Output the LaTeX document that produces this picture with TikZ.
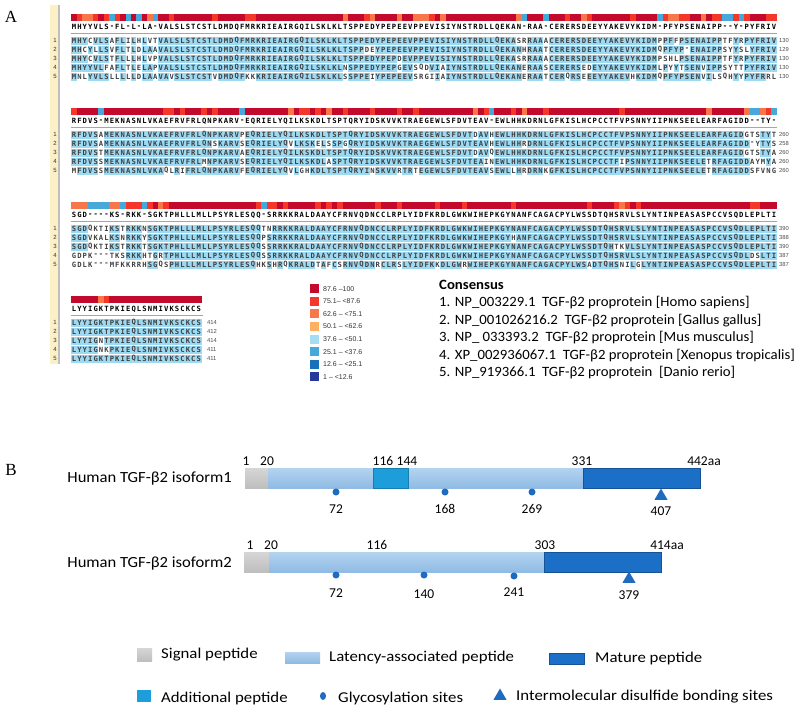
\documentclass[tikz,border=0pt]{standalone}
\usepackage{fontspec}
\setmainfont{Carlito}
\newfontfamily\widefont{Carlito}[FakeStretch=1.12]
\newfontfamily\midfont{Carlito}[FakeStretch=1.07]
\newfontfamily\specfont{Carlito}[FakeStretch=1.04]
\newfontfamily\alnfont{DejaVu Sans Mono}
\newfontfamily\arialfont{Liberation Sans}
\newfontfamily\timesfont{Liberation Serif}
\usetikzlibrary{shapes.geometric}

\definecolor{hitblue}{HTML}{9CDAF4}
\definecolor{cons1}{HTML}{C40A2C}
\definecolor{cons2}{HTML}{F5362B}
\definecolor{cons3}{HTML}{F7774A}
\definecolor{cons4}{HTML}{FDB062}
\definecolor{cons5}{HTML}{A6DDF2}
\definecolor{cons6}{HTML}{47A9DA}
\definecolor{cons7}{HTML}{1671BA}
\definecolor{cons8}{HTML}{27389A}
\definecolor{stripe}{HTML}{FBF0C6}
\definecolor{sigtop}{HTML}{D6D6D6}
\definecolor{sigbot}{HTML}{BEBEBE}
\definecolor{laptop}{HTML}{B4D3EF}
\definecolor{lapbot}{HTML}{8FBBE4}
\definecolor{matcol}{HTML}{1C6FC6}
\definecolor{addcol}{HTML}{1D9DDA}
\definecolor{sitecol}{HTML}{1F6BC0}

% alignment helpers
\newcount\alncol
\def\alngap{-}
\def\alnbump{%
  \edef\alnkey{alncnt\alnblk-\the\alncol}%
  \ifcsname\alnkey\endcsname
    \expandafter\xdef\csname\alnkey\endcsname{\the\numexpr\csname\alnkey\endcsname+1\relax}%
  \else
    \expandafter\xdef\csname\alnkey\endcsname{1}%
  \fi}
\def\alnstep#1#2\relax#3#4\relax{%
  \pgfmathsetmacro\alnx{74+5.426*\the\alncol}%
  \def\alnc{#1}\def\alnr{#3}%
  \ifx\alnc\alnr
    \ifx\alnr\alngap\else
      \fill[alnhit] (\alnx-2.75,\alny-4) rectangle (\alnx+2.75,\alny+4);
      \alnbump
    \fi
  \fi
  \node[alnchar, name=r\alnblk-\alnrow-\the\alncol] at (\alnx,\alny) {#3};
  \advance\alncol by 1
  \def\alnrest{#2}%
  \ifx\alnrest\empty\else\alnstep#2\relax#4\relax\fi}
\def\alnconsstep#1#2\relax{%
  \pgfmathsetmacro\alnx{74+5.426*\the\alncol}%
  \node[conschar, name=c\alnblk-\the\alncol] at (\alnx,\alny) {#1};
  \advance\alncol by 1
  \def\alnrest{#2}%
  \ifx\alnrest\empty\else\alnconsstep#2\relax\fi}
\newcommand\alncons[2]{%
  \def\alny{#1}\alncol=0
  \edef\alnrun{\noexpand\alnconsstep#2\relax}\alnrun}
\newcommand\alnline[3]{%
  \def\alnrow{#1}%
  \pgfmathsetmacro\alny{\alntop+9*(#1-1)}%
  \alncol=0
  \edef\alnrun{\noexpand\alnstep#2\relax#3\relax}\alnrun}
\newcommand\alnbar[1]{%
  \foreach \ci in {1,...,#1}{%
    \pgfmathtruncatemacro\cj{\ci-1}%
    \pgfmathsetmacro\bx{74+5.426*\cj}%
    \ifcsname alncnt\alnblk-\cj\endcsname
      \edef\alnn{\csname alncnt\alnblk-\cj\endcsname}%
    \else\def\alnn{0}\fi
    \ifcase\alnn\relax\def\barcol{cons6}\or\def\barcol{cons5}\or\def\barcol{cons4}\or\def\barcol{cons3}\or\def\barcol{cons2}\or\def\barcol{cons1}\fi
    \fill[\barcol] (\bx-2.75,\alnbary-3.2) rectangle (\bx+2.75,\alnbary+3.2);
  }}

\begin{document}
\begin{tikzpicture}[x=1pt, y=-1pt,
  alnchar/.style={font=\alnfont\bfseries\fontsize{7.2}{8}\selectfont, text=black!75, inner sep=0pt},
  conschar/.style={alnchar, text=black},
  alnhit/.style={fill=hitblue},
  rownum/.style={font=\arialfont\fontsize{6}{7}\selectfont, text=black!80, inner sep=0pt},
  endnum/.style={font=\arialfont\fontsize{5.8}{7}\selectfont, text=black!70, inner sep=0pt, anchor=west},
  rulegray/.style={draw=black!35, line width=0.6pt},
  keybox/.style={minimum size=9pt, inner sep=0pt},
  keytext/.style={font=\arialfont\fontsize{7}{8}\selectfont, text=black!80, inner sep=0pt, anchor=west},
  spec/.style={font=\specfont\fontsize{14.2}{16}\selectfont, inner sep=0pt, anchor=west},
  isolab/.style={font=\midfont\fontsize{15.5}{17}\selectfont, inner sep=0pt, anchor=east},
  tick/.style={font=\fontsize{13.5}{15}\selectfont, inner sep=0pt},
  site/.style={circle, fill=sitecol, minimum size=7pt, inner sep=0pt},
  bond/.style={regular polygon, regular polygon sides=3, fill=sitecol, minimum size=15pt, inner sep=0pt},
  keylab/.style={font=\widefont\fontsize{15}{17}\selectfont, inner sep=0pt, anchor=west},
  panel/.style={font=\timesfont\fontsize{17}{18}\selectfont, inner sep=0pt}]
  \useasboundingbox (0,0) rectangle (800,712);
  \fill[white] (0,0) rectangle (800,712);

  % Panel A
  \node[panel] (labA) at (11,17) {A};
  \fill[stripe] (50,5) rectangle (59,364);
  \draw[black!25, line width=1.2pt] (59,5) -- (59,364);

  % Block 1
  \def\alnblk{1}\def\alntop{40.5}\def\alnbary{17.5}
  \def\alnseq{MHYYVLS-FL-L-LA-VALSLSTCSTLDMDQFMRKRIEAIRGQILSKLKLTSPPEDYPEPEEVPPEVISIYNSTRDLLQEKAN-RAA-CERERSDEEYYAKEVYKIDM-PFYPSENAIPP--Y-PYFRIV}
  \alncons{27.3}{\alnseq}
  \draw[rulegray] (71,33.5) -- (777,33.5);
  \alnline{1}{\alnseq}{MHYCVLSAFLILHLVTVALSLSTCSTLDMDQFMRKRIEAIRGQILSKLKLTSPPEDYPEPEEVPPEVISIYNSTRDLLQEKASRRAAACERERSDEEYYAKEVYKIDMPPFFPSENAIPPTFYRPYFRIV}
  \alnline{2}{\alnseq}{MHCYLLSVFLTLDLAAVALSLSTCSTLDMDQFMRKRIEAIRGQILSKLKLTSPPDEYPEPEEVPPEVISIYNSTRDLLQEKANHRAATCERERSDEEYYAKEVYKIDMQPFYP-ENAIPPSYYSLYFRIV}
  \alnline{3}{\alnseq}{MHYCVLSTFLLLHLVPVALSLSTCSTLDMDQFMRKRIEAIRGQILSKLKLTSPPEDYPEPDEVPPEVISIYNSTRDLLQEKASRRAAACERERSDEEYYAKEVYKIDMPSHLPSENAIPPTFYRPYFRIV}
  \alnline{4}{\alnseq}{MHYYVLFAFLTLELAPVALSLSTCSTLDMDQFMRKRIEAIRGQILSKLKLNSPPEDYPEPGEVSQDVIAIYNSTRDLLQEKANERAASCERERSEDEYYAKEVYKIDMLPYYTSENVIPPSYTTPYFRIV}
  \alnline{5}{\alnseq}{MNLYVLSLLLLLDLAAVAVSLSTCSTVDMDQFKKKRIEAIRGQILSKLKLSSPPEIYPEPEEVSRGIIAIYNSTRDLLQEKANERAATCERQRSEEEYYAKEVHKIDMQPFYPSENVILSQHYYPYFRRL}
  \alnbar{130}
  \foreach \j/\len in {1/130,2/129,3/130,4/130,5/130}{
    \node[rownum, name=n\alnblk-\j] at (55,\alntop+9*\j-9) {\j};
    \node[endnum, name=e\alnblk-\j] at (779,\alntop+9*\j-9) {\len};
  }

  % Block 2
  \def\alnblk{2}\def\alntop{134.5}\def\alnbary{111.5}
  \def\alnseq{RFDVS-MEKNASNLVKAEFRVFRLQNPKARV-EQRIELYQILKSKDLTSPTQRYIDSKVVKTRAEGEWLSFDVTEAV-EWLHHKDRNLGFKISLHCPCCTFVPSNNYIIPNKSEELEARFAGIDD--TY-}
  \alncons{121.3}{\alnseq}
  \draw[rulegray] (71,127.5) -- (777,127.5);
  \alnline{1}{\alnseq}{RFDVSAMEKNASNLVKAEFRVFRLQNPKARVPEQRIELYQILKSKDLTSPTQRYIDSKVVKTRAEGEWLSFDVTDAVHEWLHHKDRNLGFKISLHCPCCTFVPSNNYIIPNKSEELEARFAGIDGTSTYT}
  \alnline{2}{\alnseq}{RFDVSAMEKNASNLVKAEFRVFRLQNSKARVSEQRIELYQVLKSKELSSPGQRYIDSKVVKTRAEGEWLSFDVTEAVHEWLHHRDRNLGFKISLHCPCCTFVPSNNYIIPNKSEELEARFAGIDD-YTYS}
  \alnline{3}{\alnseq}{RFDVSTMEKNASNLVKAEFRVFRLQNPKARVAEQRIELYQILKSKDLTSPTQRYIDSKVVKTRAEGEWLSFDVTDAVQEWLHHKDRNLGFKISLHCPCCTFVPSNNYIIPNKSEELEARFAGIDGTSTYA}
  \alnline{4}{\alnseq}{RFDVSSMEKNASNLVKAEFRVFRLMNPKARVSEQRIELYQILKSKDLASPTQRYIDSKVVKTRAEGEWLSFDVTEAINEWLHHKDRNLGFKISLHCPCCTFIPSNNYIIPNKSEELETRFAGIDDAYMYA}
  \alnline{5}{\alnseq}{MFDVSSMEKNASNLVKAQLRIFRLQNPKARVFEQRIELYQVLGHKDLTSPTQRYINSKVVRTRTEGEWLSFDVTEAVSEWLLHRDRNKGFKISLHCPCCTFVPSNNYIIPNKSEELETRFAGIDDSFVNG}
  \alnbar{130}
  \foreach \j/\len in {1/260,2/258,3/260,4/260,5/260}{
    \node[rownum, name=n\alnblk-\j] at (55,\alntop+9*\j-9) {\j};
    \node[endnum, name=e\alnblk-\j] at (779,\alntop+9*\j-9) {\len};
  }

  % Block 3
  \def\alnblk{3}\def\alntop{228.5}\def\alnbary{205.5}
  \def\alnseq{SGD----KS-RKK-SGKTPHLLLMLLPSYRLESQQ-SRRKKRALDAAYCFRNVQDNCCLRPLYIDFKRDLGWKWIHEPKGYNANFCAGACPYLWSSDTQHSRVLSLYNTINPEASASPCCVSQDLEPLTI}
  \alncons{215.3}{\alnseq}
  \draw[rulegray] (71,221.5) -- (777,221.5);
  \alnline{1}{\alnseq}{SGDQKTIKSTRKKNSGKTPHLLLMLLPSYRLESQQTNRRKKRALDAAYCFRNVQDNCCLRPLYIDFKRDLGWKWIHEPKGYNANFCAGACPYLWSSDTQHSRVLSLYNTINPEASASPCCVSQDLEPLTI}
  \alnline{2}{\alnseq}{SGDVKALKSNRKKYSGKTPHLLLMLLPSYRLESQQPSRRKKRALDAAYCFRNVQDNCCLRPLYIDFKRDLGWKWIHEPKGYHANFCAGACPYLWSSDTQHSRVLSLYNTINPEASASPCCVSQDLEPLTI}
  \alnline{3}{\alnseq}{SGDQKTIKSTRKKTSGKTPHLLLMLLPSYRLESQQSSRRKKRALDAAYCFRNVQDNCCLRPLYIDFKRDLGWKWIHEPKGYNANFCAGACPYLWSSDTQHTKVLSLYNTINPEASASPCCVSQDLEPLTI}
  \alnline{4}{\alnseq}{GDPK---TKSRKKHTGRTPHLLLMLLPSYRLESQQSSRRKKRALDAAYCFRNVQDNCCLRPLYIDFKRDLGWKWIHEPKGYNANFCAGACPYLWSSDTQHSRVLSLYNTINPEASASPCCVSQDLDSLTI}
  \alnline{5}{\alnseq}{GDLK---MFKKRRHSGQSPHLLLMLLPSYRLESQHKSHRQKRALDTAFCSRNVQDNRCLRSLYIDFKKDLGWRWIHEPKGYNANFCAGACPYLWSADTQHSNILGLYNTINPEASASPCCVSQDLEPLTI}
  \alnbar{130}
  \foreach \j/\len in {1/390,2/388,3/390,4/387,5/387}{
    \node[rownum, name=n\alnblk-\j] at (55,\alntop+9*\j-9) {\j};
    \node[endnum, name=e\alnblk-\j] at (779,\alntop+9*\j-9) {\len};
  }

  % Block 4
  \def\alnblk{4}\def\alntop{322.5}\def\alnbary{299.5}
  \def\alnseq{LYYIGKTPKIEQLSNMIVKSCKCS}
  \alncons{309.3}{\alnseq}
  \draw[rulegray] (71,315.5) -- (203,315.5);
  \alnline{1}{\alnseq}{LYYIGKTPKIEQLSNMIVKSCKCS}
  \alnline{2}{\alnseq}{LYYIGKTPKIEQLSNMIVKSCKCS}
  \alnline{3}{\alnseq}{LYYIGNTPKIEQLSNMIVKSCKCS}
  \alnline{4}{\alnseq}{LYYIGNKPKIEQLSNMIVKSCKCS}
  \alnline{5}{\alnseq}{LYYIGKTPKIEQLSNMIVKSCKCS}
  \alnbar{24}
  \foreach \j/\len in {1/414,2/412,3/414,4/411,5/411}{
    \node[rownum, name=n\alnblk-\j] at (55,\alntop+9*\j-9) {\j};
    \node[endnum, name=e\alnblk-\j] at (207,\alntop+9*\j-9) {\len};
  }

  % Conservation key
  \foreach \i/\col/\txt in {0/cons1/87.6 –100, 1/cons2/75.1– <87.6, 2/cons3/62.6 – <75.1, 3/cons4/50.1 – <62.6,
      4/cons5/37.6 – <50.1, 5/cons6/25.1 – <37.6, 6/cons7/12.6 – <25.1, 7/cons8/1 – <12.6}{
    \node[keybox, fill=\col, name=kb\i] at (314,288.7+12.6*\i) {};
    \node[keytext, name=kt\i] at (323,288.7+12.6*\i) {\txt};
  }

  % Sequences used
  \node[spec, font=\specfont\bfseries\fontsize{14.2}{16}\selectfont] (ctitle) at (439,285) {Consensus};
  \node[spec] (sp1) at (439,303) {1. NP\_003229.1\ \ TGF-β2 proprotein [Homo sapiens]};
  \node[spec] (sp2) at (439,320.5) {2. NP\_001026216.2\ \ TGF-β2 proprotein [Gallus gallus]};
  \node[spec] (sp3) at (439,338) {3. NP\_ 033393.2\ \ TGF-β2 proprotein [Mus musculus]};
  \node[spec] (sp4) at (439,355.5) {4. XP\_002936067.1\ \ TGF-β2 proprotein [Xenopus tropicalis]};
  \node[spec] (sp5) at (439,373) {5. NP\_919366.1\ \ TGF-β2 proprotein\ \ [Danio rerio]};

  % Panel B
  \node[panel] (labB) at (11,470) {B};

  % Isoform 1
  \node[isolab] (iso1) at (232,478) {Human TGF-β2 isoform1};
  \shade[top color=sigtop, bottom color=sigbot] (245,468) rectangle (268,488);
  \shade[top color=laptop, bottom color=lapbot] (268,468) rectangle (583,488);
  \draw[fill=addcol, draw=addcol!80!black, line width=0.4pt] (373,468) rectangle (408,488);
  \draw[fill=matcol, draw=matcol!75!black, line width=0.5pt] (583,468) rectangle (700,488);
  \node[tick] (a1) at (246,461) {1};
  \node[tick] (a20) at (267,461) {20};
  \node[tick] (a116) at (383,461) {116};
  \node[tick] (a144) at (407,461) {144};
  \node[tick] (a331) at (582,461) {331};
  \node[tick] (a442) at (704,461) {442aa};
  \node[site] (g72a) at (336,492) {};
  \node[site] (g168) at (445,492) {};
  \node[site] (g269) at (532,492) {};
  \node[bond] (s407) at (661,496) {};
  \node[tick] (l72a) at (336,509) {72};
  \node[tick] (l168) at (445,509) {168};
  \node[tick] (l269) at (532,509) {269};
  \node[tick] (l407) at (661,511) {407};

  % Isoform 2
  \node[isolab] (iso2) at (232,563) {Human TGF-β2 isoform2};
  \shade[top color=sigtop, bottom color=sigbot] (244,552) rectangle (269,572);
  \shade[top color=laptop, bottom color=lapbot] (269,552) rectangle (544,572);
  \draw[fill=matcol, draw=matcol!75!black, line width=0.5pt] (544,552) rectangle (661,572);
  \node[tick] (b1) at (250,545) {1};
  \node[tick] (b20) at (271,545) {20};
  \node[tick] (b116) at (377,545) {116};
  \node[tick] (b303) at (545,545) {303};
  \node[tick] (b414) at (667,545) {414aa};
  \node[site] (g72b) at (336,575) {};
  \node[site] (g140) at (424,575) {};
  \node[site] (g241) at (514,576) {};
  \node[bond] (s379) at (629,579) {};
  \node[tick] (l72b) at (336,593) {72};
  \node[tick] (l140) at (424,594) {140};
  \node[tick] (l241) at (514,592) {241};
  \node[tick] (l379) at (629,595) {379};

  % Legend
  \shade[top color=sigtop, bottom color=sigbot] (137,648) rectangle (152,661);
  \node[keylab] (ksig) at (161,655) {Signal peptide};
  \shade[top color=laptop, bottom color=lapbot] (285,652) rectangle (320,663);
  \node[keylab] (klap) at (329,657) {Latency-associated peptide};
  \draw[fill=matcol, draw=matcol!75!black, line width=0.5pt] (549,653) rectangle (584,664);
  \node[keylab] (kmat) at (595,658) {Mature peptide};
  \fill[addcol] (137,690) rectangle (151,702);
  \node[keylab] (kadd) at (161,698) {Additional peptide};
  \node[site, minimum width=6pt, minimum height=8pt, ellipse] (kgly) at (323,696) {};
  \node[keylab] (kgl) at (338,698) {Glycosylation sites};
  \node[bond] (kbond) at (500,696) {};
  \node[keylab] (kdis) at (516,697) {Intermolecular disulfide bonding sites};
\end{tikzpicture}
\end{document}
